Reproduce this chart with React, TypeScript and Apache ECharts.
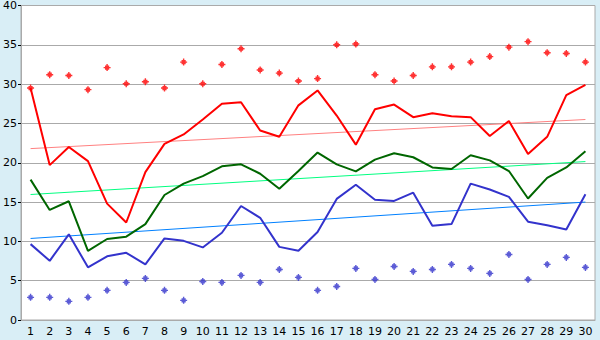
import React, { useEffect, useRef } from "react";
import * as echarts from "echarts";

const categories = Array.from({ length: 30 }, (_, i) => String(i + 1));

const redLine = [29.5, 19.7, 22.0, 20.2, 14.8, 12.4, 18.8, 22.4, 23.6, 25.5, 27.5, 27.7, 24.1, 23.3, 27.3, 29.2, 26.0, 22.3, 26.8, 27.4, 25.8, 26.3, 25.9, 25.8, 23.4, 25.3, 21.1, 23.3, 28.6, 29.9];
const greenLine = [17.85, 14.0, 15.1, 8.8, 10.3, 10.6, 12.2, 15.9, 17.35, 18.3, 19.55, 19.8, 18.6, 16.7, 18.95, 21.3, 19.8, 18.9, 20.4, 21.2, 20.7, 19.4, 19.2, 20.95, 20.3, 18.95, 15.45, 18.07, 19.4, 21.46];
const blueLine = [9.65, 7.53, 10.9, 6.7, 8.1, 8.55, 7.07, 10.37, 10.07, 9.23, 11.1, 14.5, 13.0, 9.3, 8.8, 11.2, 15.4, 17.2, 15.3, 15.15, 16.2, 12.0, 12.2, 17.35, 16.6, 15.66, 12.5, 12.06, 11.5, 16.0];
const redPoints = [29.5, 31.2, 31.1, 29.3, 32.1, 30.05, 30.3, 29.5, 32.8, 30.05, 32.5, 34.5, 31.8, 31.4, 30.4, 30.7, 35.0, 35.1, 31.2, 30.4, 31.1, 32.2, 32.2, 32.8, 33.5, 34.7, 35.4, 34.0, 33.9, 32.8];
const bluePoints = [2.88, 2.88, 2.37, 2.88, 3.77, 4.78, 5.29, 3.77, 2.5, 4.9, 4.78, 5.67, 4.78, 6.43, 5.42, 3.77, 4.27, 6.56, 5.16, 6.81, 6.18, 6.43, 7.07, 6.56, 5.93, 8.34, 5.16, 7.07, 7.96, 6.69];
const redTrend = [21.8, 25.5];
const greenTrend = [15.96, 20.15];
const blueTrend = [10.37, 15.0];

const MARKER = "path://M2,0H3V1H4V2H5V3H4V4H3V5H2V4H1V3H0V2H1V1H2Z";

function trendData(ends: number[]) {
  return categories.map((_, i) =>
    i === 0 ? ends[0] : i === categories.length - 1 ? ends[1] : null
  );
}

export default function App() {
  const ref = useRef<HTMLDivElement>(null);
  useEffect(() => {
    if (!ref.current) return;
    const chart = echarts.init(ref.current, null, { renderer: "svg" });
    const font = "'DejaVu Sans', Verdana, sans-serif";
    const lineSeries = (data: any[], color: string, width: number, z: number, connect = false) => ({
      type: "line",
      data,
      symbol: "none",
      connectNulls: connect,
      lineStyle: { color, width },
      itemStyle: { color },
      z,
    });
    chart.setOption({
      animation: false,
      backgroundColor: "#d9eef6",
      grid: {
        left: 20,
        top: 5,
        width: 575,
        height: 315,
        show: true,
        backgroundColor: "#ffffff",
        borderColor: "#aaaaaa",
        borderWidth: 1,
      },
      xAxis: {
        type: "category",
        data: categories,
        boundaryGap: true,
        axisLine: { lineStyle: { color: "#aaaaaa" } },
        axisTick: { alignWithLabel: true, length: 4, lineStyle: { color: "#000000" } },
        axisLabel: { color: "#000000", fontFamily: font, fontSize: 11, margin: 6, interval: 0 },
        splitLine: { show: false },
      },
      yAxis: {
        type: "value",
        min: 0,
        max: 40,
        interval: 5,
        axisLine: { show: true, lineStyle: { color: "#aaaaaa" } },
        axisTick: { show: true, length: 3, lineStyle: { color: "#000000" } },
        axisLabel: { color: "#000000", fontFamily: font, fontSize: 11, margin: 4 },
        splitLine: { lineStyle: { color: "#aaaaaa", width: 1 } },
      },
      series: [
        lineSeries(trendData(redTrend), "#ff8080", 1, 1, true),
        lineSeries(trendData(greenTrend), "#00ff80", 1, 1, true),
        lineSeries(trendData(blueTrend), "#0080ff", 1, 1, true),
        lineSeries(redLine, "#ff0000", 2, 3),
        lineSeries(greenLine, "#006600", 2, 3),
        lineSeries(blueLine, "#3333cc", 2, 3),
        {
          type: "scatter",
          data: redPoints,
          symbol: MARKER,
          symbolSize: 7,
          itemStyle: { color: "#ff0000" },
          z: 4,
        },
        {
          type: "scatter",
          data: bluePoints,
          symbol: MARKER,
          symbolSize: 7,
          itemStyle: { color: "#3333cc" },
          z: 4,
        },
      ],
    });
    return () => chart.dispose();
  }, []);
  return (
    <div
      ref={ref}
      style={{ position: "fixed", left: 0, top: 0, width: 600, height: 340 }}
    />
  );
}
